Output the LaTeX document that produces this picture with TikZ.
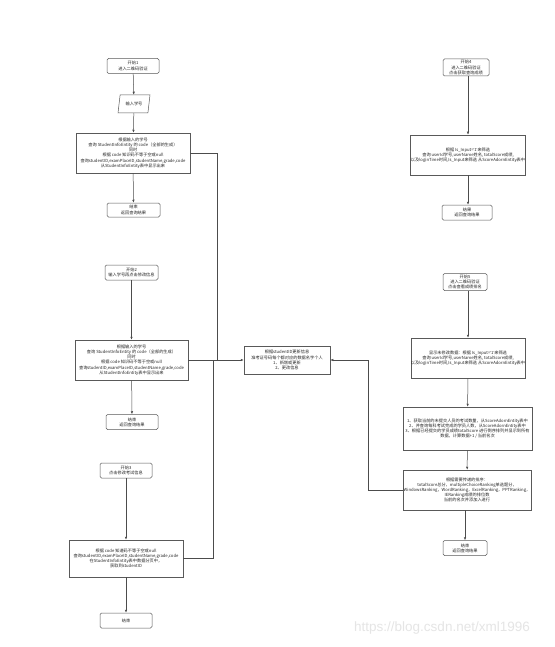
\documentclass[tikz,border=0pt]{standalone}
\usepackage{fontspec}
\setmainfont{Noto Sans CJK SC}
\newfontfamily\wmfont{Liberation Sans}
\newcommand{\sq}{{\wmfont\symbol{39}}}
\usetikzlibrary{arrows.meta,shapes.geometric}
\begin{document}
\begin{tikzpicture}[x=1pt,y=-1pt,
  every node/.style={font=\fontsize{4.2}{5.2}\selectfont, align=center, inner sep=0pt, text=black!85},
  termbox/.style={draw=black!65, line width=0.5pt, rounded corners=1.5pt, fill=white},
  procbox/.style={draw=black!65, line width=0.5pt, fill=white},
  iobox/.style={draw=black!65, line width=0.5pt, trapezium, trapezium left angle=72, trapezium right angle=108, trapezium stretches=true, fill=white},
  conn/.style={draw=black!70, line width=0.5pt},
  arr/.style={conn, -{Latex[length=3pt,width=2.4pt]}}]
\fill[white] (0,0) rectangle (554,647);
\useasboundingbox (0,0) rectangle (554,647);

% left column, flow 1
\node[termbox, minimum width=52pt, minimum height=15pt] (s1) at (133,66) {开始1\\进入二维码验证};
\node[iobox, minimum width=32pt, minimum height=18pt] (io1) at (134,104) {输入学号};
\node[procbox, minimum width=114pt, minimum height=40pt] (p1) at (133,153) {根据输入的学号\\查询 StudentInfoEntity 的 code（全部的生成）\\同时\\根据 code 知识码不等于空或null\\查询studentID,examPlaceID,studentName,grade,code\\从StudentInfoEntity表中显示出来};
\node[termbox, minimum width=53pt, minimum height=14pt] (e1) at (133.5,210) {结束\\返回查询结果};

% flow 2
\node[termbox, minimum width=53pt, minimum height=15pt] (s2) at (131.5,272.5) {开始2\\输入学号再点击修改信息};
\node[procbox, minimum width=113pt, minimum height=40pt] (p2) at (131.5,360) {根据输入的学号\\查询 StudentInfoEntity 的 code（全部的生成）\\同时\\根据 code 知识码不等于空或null\\查询studentID,examPlaceID,studentName,grade,code\\从StudentInfoEntity表中显示出来};
\node[termbox, minimum width=52pt, minimum height=15pt] (e2) at (132,422) {结束\\返回查询结果};

% flow 3
\node[termbox, minimum width=52pt, minimum height=15pt] (s3) at (126,470.5) {开始3\\点击修改考试信息};
\node[procbox, minimum width=114pt, minimum height=37pt] (p3) at (126,558.5) {根据 code 知道码不等于空或null\\查询studentID,examPlaceID,studentName,grade,code\\在StudentInfoEntity表中数据分页中，\\获取到studentID};
\node[termbox, minimum width=52pt, minimum height=15pt] (e3) at (126,620.5) {结束};

% center
\node[procbox, minimum width=86pt, minimum height=28pt] (c) at (287,360) {根据studentID更新信息\\准考证号码每个都对应的数据名字个人\\1、新增或更新\\2、更改信息};

% right column, flow 4
\node[termbox, minimum width=46pt, minimum height=17pt] (s4) at (466,67.5) {开始4\\进入二维码验证\\点击获取查询成绩};
\node[procbox, minimum width=115pt, minimum height=40pt] (p4) at (468,155) {根据 Is\_Input=\sq{}1\sq{}来筛选\\查询 userId学号,userName姓名, totalScore成绩,\\以及loginTime时间,Is\_Input来筛选 从ScoreAdornEntity表中};
\node[termbox, minimum width=50pt, minimum height=15pt] (e4) at (467,212.5) {结果\\返回查询结果};

% flow 5
\node[termbox, minimum width=44pt, minimum height=17pt] (s5) at (465,282) {开始5\\进入二维码验证\\点击查看成绩排名};
\node[procbox, minimum width=112pt, minimum height=40pt] (p5) at (468,358) {显示未修改数据：根据 Is\_Input=\sq{}1\sq{}来筛选\\查询 userId学号,userName姓名, totalScore成绩,\\以及loginTime时间,Is\_Input来筛选 从ScoreAdornEntity表中};
\node[procbox, minimum width=129pt, minimum height=43pt] (p6) at (467.5,428.5) {1、获取当前的未提交人员的考试数量，从ScoreAdornEntity表中\\2、并查询每科考试完成的学员人数，从ScoreAdornEntity表中\\3、根据已经提交的学员成绩totalScore 进行倒序排列并显示到所有\\数据，计算数据+1 / 当前名次};
\node[procbox, minimum width=128pt, minimum height=40pt] (p7) at (467,490) {根据需要传递的排序：\\totalScore总分，multipleChoiceRanking单选题分，\\WindowsRanking，WordRanking，ExcelRanking，PPTRanking，\\IERanking成绩的排位数\\当前的名次并添加入进行};
\node[termbox, minimum width=44pt, minimum height=15pt] (e5) at (465,548) {结束\\返回查询结果};

% lane points
\coordinate (l1a) at (217,153);
\coordinate (l1b) at (217,360);
\coordinate (l3a) at (213,558.5);
\coordinate (l3b) at (213,360);
\coordinate (r1) at (368,490);
\coordinate (r2) at (368,360);

% connectors
\draw[arr] (s1) -- (io1);
\draw[arr] (io1) -- (p1);
\draw[arr] (p1) -- (e1);
\draw[arr] (s2) -- (p2);
\draw[arr] (p2) -- (e2);
\draw[arr] (s3) -- (p3);
\draw[arr] (p3) -- (e3);
\draw[conn] (p1.east) -- (l1a) -- (l1b);
\draw[conn] (p3.east) -- (l3a) -- (l3b);
\draw[arr] (p2.east) -- (c.west);
\draw[arr] (p7.west) -- (r1) -- (r2) -- (c.east);
\draw[arr] (s4.south -| p4.north) -- (p4.north);
\draw[arr] (p4) -- (p4.south |- e4.north);
\draw[arr] (s5.south -| p5.north) -- (p5.north);
\draw[arr] (p5) -- (p6);
\draw[arr] (p6) -- (p7);
\draw[arr] (p7.south -| e5.north) -- (e5.north);

% watermark
\node[font=\wmfont\fontsize{13.5}{14}\selectfont, text=black!10] (wm) at (442,628) {https://blog.csdn.net/xml1996};
\end{tikzpicture}
\end{document}
